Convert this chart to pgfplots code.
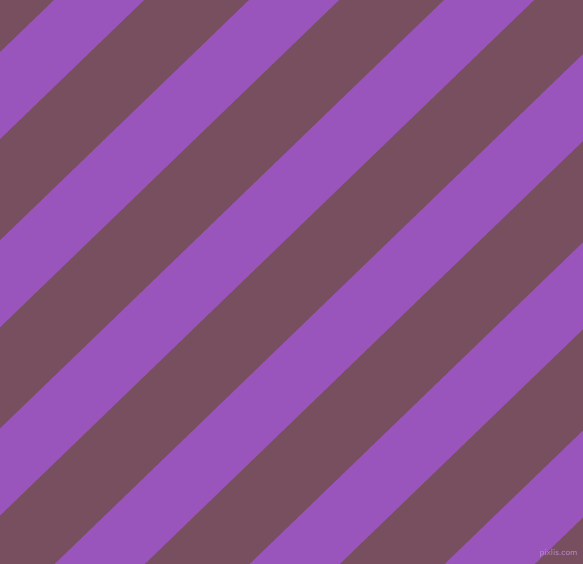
\documentclass[border=0pt]{standalone}
\usepackage{pgfplots}
\pgfplotsset{compat=1.18}
\definecolor{lilac}{HTML}{9955BB}
\definecolor{mauvebrown}{HTML}{784F5F}
\begin{document}
\begin{tikzpicture}
\begin{axis}[
    scale only axis,
    width=583pt, height=563pt,
    xmin=0, xmax=583, ymin=0, ymax=563,
    y dir=reverse,
    hide axis,
    clip=true,
  ]
  % background
  \addplot[fill=mauvebrown, draw=none] coordinates {(-10,-10) (600,-10) (600,600) (-10,600)} -- cycle;
  % diagonal stripes
  \addplot[fill=lilac, draw=none] coordinates {(64.4,-10) (154.4,-10) (-477.6,600) (-567.6,600)} -- cycle;
  \addplot[fill=lilac, draw=none] coordinates {(259.4,-10) (349.4,-10) (-282.6,600) (-372.6,600)} -- cycle;
  \addplot[fill=lilac, draw=none] coordinates {(454.4,-10) (544.4,-10) (-87.6,600) (-177.6,600)} -- cycle;
  \addplot[fill=lilac, draw=none] coordinates {(649.4,-10) (739.4,-10) (107.4,600) (17.4,600)} -- cycle;
  \addplot[fill=lilac, draw=none] coordinates {(844.4,-10) (934.4,-10) (302.4,600) (212.4,600)} -- cycle;
  \addplot[fill=lilac, draw=none] coordinates {(1039.4,-10) (1129.4,-10) (497.4,600) (407.4,600)} -- cycle;
  \node[text=lilac!70!white, font=\sffamily\small, anchor=south east] at (axis cs:581,561) {pixlis.com};
\end{axis}
\pgfresetboundingbox
\useasboundingbox (current axis.south west) rectangle (current axis.north east);
\end{tikzpicture}
\end{document}
